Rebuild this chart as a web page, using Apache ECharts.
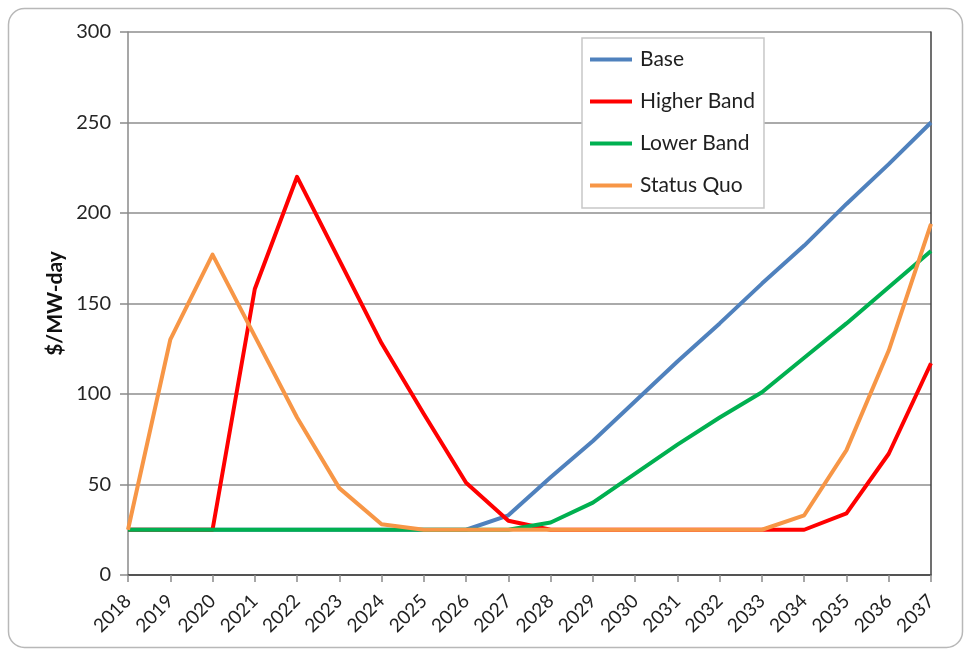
<!DOCTYPE html>
<html>
<head>
<meta charset="utf-8">
<script src="https://cdn.jsdelivr.net/npm/echarts@6/dist/echarts.min.js"></script>
<style>
  html, body { margin: 0; padding: 0; background: #fff; }
  #chart { width: 966px; height: 654px; }
</style>
</head>
<body>
<div id="chart"></div>
<script>
// Capacity price scenarios, $/MW-day
const years = ['2018','2019','2020','2021','2022','2023','2024','2025','2026','2027',
               '2028','2029','2030','2031','2032','2033','2034','2035','2036','2037'];
const base       = [25,25,25,25,25,25,25,25,25,33,54,74,96,118,139,161,182,205,227,250];
const higherBand = [25,25,25,158,220,174,128,89,51,30,25,25,25,25,25,25,25,34,67,117];
const lowerBand  = [25,25,25,25,25,25,25,25,25,25,29,40,56,72,87,101,120,139,159,179];
const statusQuo  = [25,130,177,132,87,48,28,25,25,25,25,25,25,25,25,25,33,69,124,194];
const yTicks = [0, 50, 100, 150, 200, 250, 300];

const FONT = 'Lato, "Liberation Sans", sans-serif';
const seriesDefs = [
  { name: 'Base',        data: base,       color: '#4f81bd' },
  { name: 'Higher Band', data: higherBand, color: '#ff0000' },
  { name: 'Lower Band',  data: lowerBand,  color: '#00b050' },
  { name: 'Status Quo',  data: statusQuo,  color: '#f79646' }
];

const chart = echarts.init(document.getElementById('chart'), null, { renderer: 'canvas' });
chart.setOption({
  animation: false,
  backgroundColor: '#fff',
  textStyle: { fontFamily: FONT },
  graphic: [{
    type: 'rect',
    shape: { x: 8.5, y: 8.5, width: 954, height: 639, r: 16 },
    style: { fill: 'none', stroke: '#b8b8b8', lineWidth: 1.5 },
    z: -10, silent: true
  }],
  grid: { left: 128, right: 35, top: 32, bottom: 79, containLabel: false },
  legend: {
    orient: 'vertical',
    left: 582, top: 38,
    padding: [10, 9, 11, 8],
    itemGap: 19,
    itemWidth: 42, itemHeight: 4,
    icon: 'rect',
    backgroundColor: '#fff',
    borderColor: '#c8c8c8', borderWidth: 1.5,
    textStyle: { fontFamily: FONT, fontSize: 21, color: '#1f1f1f', lineHeight: 23, padding: [0, 0, 0, 3] },
    data: seriesDefs.map(s => s.name)
  },
  xAxis: [{
    type: 'category',
    data: years,
    boundaryGap: false,
    axisLine: { lineStyle: { color: '#8a8a8a', width: 1.5 } },
    axisTick: { show: true, length: 7, alignWithLabel: true, lineStyle: { color: '#8a8a8a', width: 1.5 } },
    axisLabel: { rotate: 45, margin: 23, fontSize: 19, color: '#1f1f1f', fontFamily: FONT, interval: 0 },
    splitLine: { show: false }
  }, {
    type: 'category',
    data: years,
    position: 'top',
    boundaryGap: false,
    axisLine: { lineStyle: { color: '#404040', width: 1.5 } },
    axisTick: { show: false },
    axisLabel: { show: false }
  }],
  yAxis: [{
    type: 'value',
    min: 0, max: 300, interval: 50,
    name: '$/MW-day',
    nameLocation: 'middle',
    nameGap: 62,
    nameTextStyle: { fontSize: 21, fontWeight: 'bold', color: '#111', fontFamily: FONT },
    axisLine: { show: true, lineStyle: { color: '#8a8a8a', width: 1.5 } },
    axisTick: { show: true, length: 8, lineStyle: { color: '#8a8a8a', width: 1.5 } },
    axisLabel: {
      fontSize: 20, color: '#262626', margin: 17, fontFamily: FONT,
      formatter: v => (yTicks.indexOf(v) >= 0 ? String(v) : '')
    },
    splitLine: { show: true, lineStyle: { color: '#8e8e8e', width: 1.5 } }
  }, {
    type: 'value',
    min: 0, max: 300, interval: 50,
    position: 'right',
    axisLine: { show: true, lineStyle: { color: '#404040', width: 1.5 } },
    axisTick: { show: false },
    axisLabel: { show: false },
    splitLine: { show: false }
  }],
  series: seriesDefs.map(s => ({
    name: s.name,
    type: 'line',
    data: s.data,
    color: s.color,
    showSymbol: false,
    symbol: 'none',
    lineStyle: { width: 4, color: s.color, join: 'round' },
    itemStyle: { color: s.color },
    z: 3
  }))
});
</script>
</body>
</html>
